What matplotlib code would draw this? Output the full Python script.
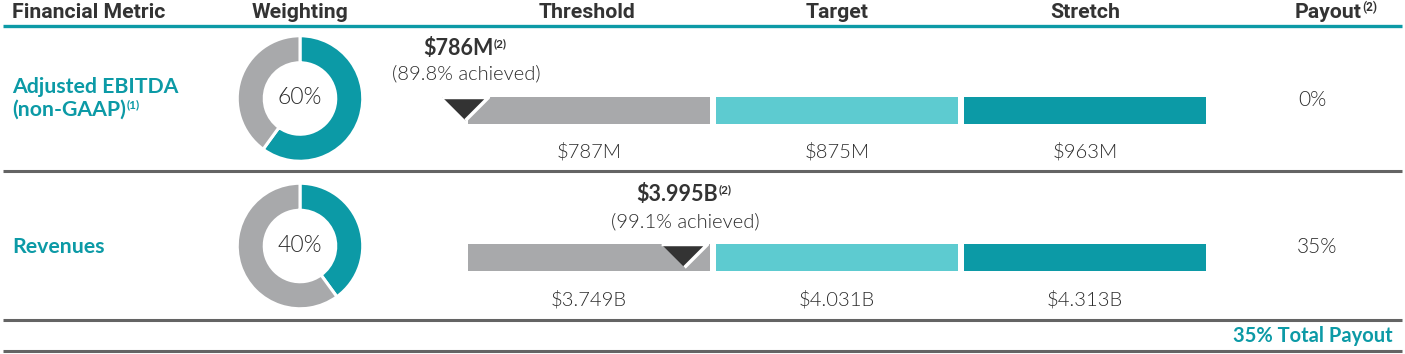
import matplotlib
matplotlib.use("Agg")
import matplotlib.pyplot as plt

# ---------------- data ----------------
headers = ["Financial Metric", "Weighting", "Threshold", "Target", "Stretch", "Payout"]
metric_lines = [["Adjusted EBITDA", "(non-GAAP)"], ["Revenues"]]
metric_notes = ["(1)", None]
weights = [60, 40]
threshold_vals = [787, 3.749]
target_vals = [875, 4.031]
stretch_vals = [963, 4.313]
threshold_labels = ["$787M", "$3.749B"]
target_labels = ["$875M", "$4.031B"]
stretch_labels = ["$963M", "$4.313B"]
actual_vals = [786, 3.995]
actual_labels = ["$786M", "$3.995B"]
achieved_pct = [89.8, 99.1]
payouts = [0, 35]
total_payout = 35

# ---------------- style ----------------
W, H, DPI = 1405, 354, 100
TEAL = "#0C9AA6"
LTEAL = "#5DCBD0"
GRAY = "#A8A9AB"
DARK = "#333333"
MID = "#2c2c2c"
LINEG = "#646464"
BOLD_FONT = ["Lato", "DejaVu Sans"]
LIGHT_FONT = ["Lato", "DejaVu Sans"]
HEAD_FONT = ["Liberation Sans Narrow", "Roboto", "DejaVu Sans"]
LIGHT = 300

fig = plt.figure(figsize=(W / DPI, H / DPI), dpi=DPI)
ax = fig.add_axes([0, 0, 1, 1])
ax.set_xlim(0, W)
ax.set_ylim(H, 0)
ax.axis("off")
renderer = fig.canvas.get_renderer()


def txt(x, y, s, size, color=DARK, weight="normal", family=LIGHT_FONT, ha="left", **kw):
    return ax.text(x, y, s, fontsize=size, color=color, fontweight=weight,
                   family=family, ha=ha, va="baseline", parse_math=False, **kw)


def sup_after(t, s, size, rise, color=DARK, weight="bold", family=BOLD_FONT):
    bb = t.get_window_extent(renderer=renderer)
    x = bb.x1 + 0.5
    y = t.get_position()[1] - rise
    return ax.text(x, y, s, fontsize=size, color=color, fontweight=weight,
                   family=family, ha="left", va="baseline", parse_math=False)


# ---------------- header ----------------
head_x = [12, 300, 587, 837, 1085, 1328]
head_ha = ["left", "center", "center", "center", "center", "center"]
for hx, hs, hh in zip(head_x, headers, head_ha):
    t = txt(hx, 18, hs, 15.3, weight="bold", family=HEAD_FONT, ha=hh)
    if hs == "Payout":
        sup_after(t, "(2)", 8.5, 7, weight="bold", family=HEAD_FONT)
ax.plot([3, 1402], [25.5, 25.5], color=TEAL, lw=2.4, solid_capstyle="butt")

# ---------------- rows ----------------
seg_left = [468, 716, 964]
seg_w = 242
bar_h = 27
bar_top = [97, 244]
donut_cy = [98.5, 246]
donut_r = 63
metric_y = [[93, 116], [253]]
payout_y = [106, 253]
payout_x = [1312, 1317]
sep_y = [171, 320]
bold_y = [55, 201]
ach_y = [79, 227]
value_y = [158, 305]

for i in range(2):
    cy = bar_top[i] + bar_h / 2
    ax.barh([cy] * 3, [seg_w] * 3, left=seg_left, height=bar_h,
            color=[GRAY, LTEAL, TEAL], zorder=2)

    # value labels under bars
    for sx, lab in zip(seg_left, [threshold_labels[i], target_labels[i], stretch_labels[i]]):
        txt(sx + seg_w / 2, value_y[i], lab, 14.5, color=MID, ha="center", weight=LIGHT)

    # actual marker: position interpolated between threshold and target starts
    frac = (actual_vals[i] - threshold_vals[i]) / (target_vals[i] - threshold_vals[i])
    mx = seg_left[0] + frac * (seg_left[1] - seg_left[0])
    ax.plot([mx], [bar_top[i]], marker=[(-1, 0), (1, 0), (0, -1)], markersize=33,
            color=DARK, markeredgecolor="white", markeredgewidth=2.5, zorder=4)

    t = txt(mx - 7, bold_y[i], actual_labels[i], 15.5, weight="bold",
            family=BOLD_FONT, ha="center")
    sup_after(t, "(2)", 8.5, 8)
    txt(mx + 1, ach_y[i], f"({achieved_pct[i]}% achieved)", 14.5,
        color=MID, ha="center", weight=LIGHT)

    # metric names
    for j, line in enumerate(metric_lines[i]):
        t = txt(12, metric_y[i][j], line, 15.3, color=TEAL, weight="bold", family=BOLD_FONT)
        if j == len(metric_lines[i]) - 1 and metric_notes[i]:
            sup_after(t, metric_notes[i], 8.5, 8, color=TEAL)

    # payout
    txt(payout_x[i], payout_y[i], f"{payouts[i]}%", 15, color=MID, ha="center", weight=LIGHT)

    # separator
    ax.plot([3, 1402], [sep_y[i], sep_y[i]], color=LINEG, lw=2.2, solid_capstyle="butt")

    # donut
    size = 2 * donut_r + 2
    dax = fig.add_axes([(300 - size / 2) / W, 1 - (donut_cy[i] + size / 2) / H, size / W, size / H])
    dax.pie([weights[i], 100 - weights[i]], colors=[TEAL, GRAY], startangle=90,
            counterclock=False, radius=1.0,
            wedgeprops=dict(width=0.43, edgecolor="white", linewidth=2.2))
    dax.set_xlim(-1.02, 1.02)
    dax.set_ylim(-1.02, 1.02)
    dax.set_aspect("equal")
    dax.axis("off")
    txt(300, donut_cy[i] + 6, f"{weights[i]}%", 16.5, color=MID, ha="center", weight=LIGHT,
        zorder=5)

# ---------------- footer ----------------
txt(1393, 342, f"{total_payout}% Total Payout", 14.5, color=TEAL, weight="bold",
    family=BOLD_FONT, ha="right")
ax.plot([3, 1402], [351, 351], color=LINEG, lw=2.2, solid_capstyle="butt")

fig.savefig("out.png", dpi=DPI)
